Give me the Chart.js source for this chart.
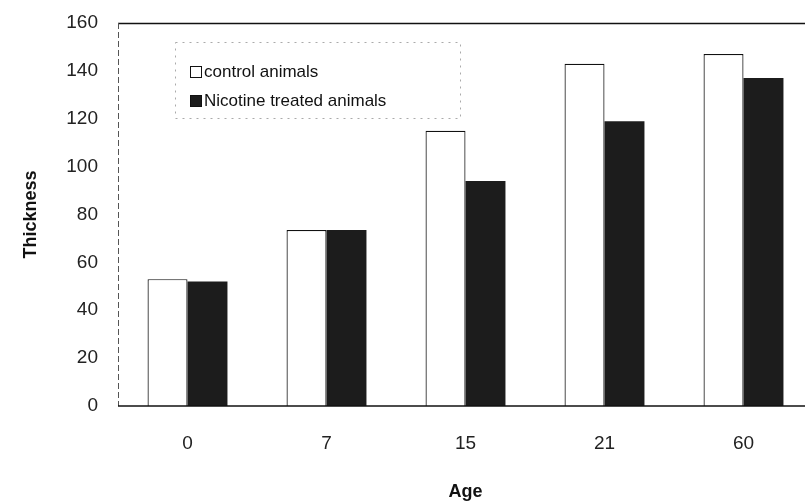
<!DOCTYPE html>
<html>
<head>
<meta charset="utf-8">
<script src="https://cdn.jsdelivr.net/npm/chart.js@4"></script>
<style>
html,body{margin:0;padding:0;background:#fff;overflow:hidden;}
#wrap{width:805px;height:503px;overflow:hidden;}
</style>
</head>
<body>
<div id="wrap"><canvas id="c" width="813" height="503"></canvas></div>
<script>
const ages = ['0', '7', '15', '21', '60'];
const controlValues = [53, 73.5, 115, 143, 147];
const nicotineValues = [52, 73.5, 94, 119, 137];
const yTicks = [0, 20, 40, 60, 80, 100, 120, 140, 160];
const seriesLabels = ['control animals', 'Nicotine treated animals'];

const font = "'Liberation Sans', Arial, sans-serif";

const frame = {
  id: 'frame',
  afterDraw(chart) {
    const {ctx, chartArea: a} = chart;
    const W = chart.width;
    ctx.save();
    // top border
    ctx.strokeStyle = '#111';
    ctx.lineWidth = 1.5;
    ctx.beginPath(); ctx.moveTo(a.left, a.top + 0.5); ctx.lineTo(W, a.top + 0.5); ctx.stroke();
    // left dashed axis
    ctx.strokeStyle = '#555';
    ctx.lineWidth = 1;
    ctx.setLineDash([6, 3]);
    ctx.beginPath(); ctx.moveTo(a.left + 0.5, a.top); ctx.lineTo(a.left + 0.5, a.bottom); ctx.stroke();
    ctx.setLineDash([]);
    // bottom axis
    ctx.strokeStyle = '#111';
    ctx.lineWidth = 1.5;
    ctx.beginPath(); ctx.moveTo(a.left, a.bottom); ctx.lineTo(W, a.bottom); ctx.stroke();

    // legend box
    const lx = 175, ly = 42, lw = 285, lh = 76;
    ctx.strokeStyle = '#aaa';
    ctx.lineWidth = 1;
    ctx.setLineDash([2, 5]);
    ctx.strokeRect(lx + 0.5, ly + 0.5, lw, lh);
    ctx.setLineDash([]);
    ctx.font = '17px ' + font;
    ctx.textBaseline = 'middle';
    ctx.fillStyle = '#111';
    const ds = chart.data.datasets;
    const rows = [72, 101];
    ds.forEach((d, i) => {
      const y = rows[i];
      ctx.fillStyle = d.backgroundColor;
      ctx.fillRect(190, y - 6, 12, 12);
      ctx.strokeStyle = '#111';
      ctx.strokeRect(190.5, y - 5.5, 11, 11);
      ctx.fillStyle = '#111';
      ctx.fillText(d.label, 204, y);
    });
    ctx.restore();
  }
};

new Chart(document.getElementById('c'), {
  type: 'bar',
  data: {
    labels: ages,
    datasets: [
      { label: seriesLabels[0], data: controlValues, backgroundColor: '#ffffff', borderColor: '#111', borderWidth: 1.2 },
      { label: seriesLabels[1], data: nicotineValues, backgroundColor: '#1c1c1c', borderColor: '#111', borderWidth: 0 }
    ]
  },
  options: {
    responsive: false,
    animation: false,
    layout: { padding: { top: 23, right: 0, left: 0, bottom: 0 } },
    plugins: { legend: { display: false }, tooltip: { enabled: false } },
    datasets: { bar: { categoryPercentage: 0.575, barPercentage: 1.0 } },
    scales: {
      x: {
        grid: { display: false, drawTicks: false },
        border: { display: false },
        ticks: { color: '#222', font: { family: font, size: 19 }, padding: 26 },
        title: { display: true, text: 'Age', color: '#111', font: { family: font, size: 18, weight: 'bold', lineHeight: 1 }, padding: { top: 0, bottom: 2 } },
        afterFit(s) { s.height = 97; s.paddingLeft = 0; s.paddingRight = 0; }
      },
      y: {
        min: 0, max: 160,
        afterBuildTicks(s) { s.ticks = yTicks.map(v => ({ value: v })); },
        grid: { display: false, drawTicks: false },
        border: { display: false },
        ticks: { color: '#222', font: { family: font, size: 19 }, padding: 20 },
        title: { display: true, text: 'Thickness', color: '#111', font: { family: font, size: 18, weight: 'bold' }, padding: { top: 20, bottom: 0 } },
        afterFit(s) { s.width = 118; s.paddingTop = 0; s.paddingBottom = 0; }
      }
    }
  },
  plugins: [frame]
});
</script>
</body>
</html>
